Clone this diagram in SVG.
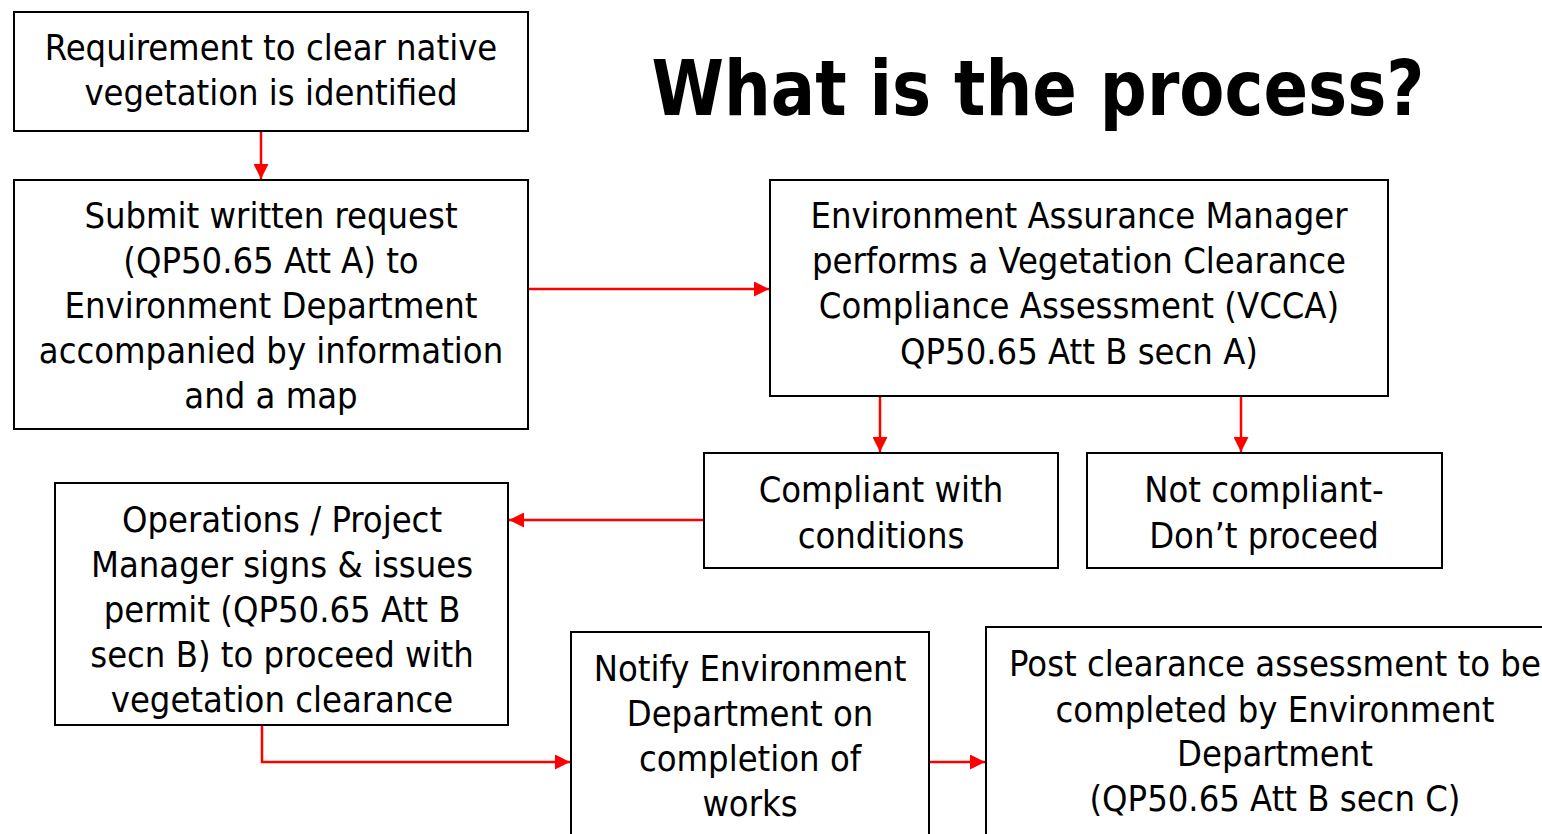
<svg xmlns="http://www.w3.org/2000/svg" width="1542" height="834" viewBox="0 0 1542 834">
<style>
.box{fill:#fff;stroke:#000;stroke-width:2}
.t{font-family:"DejaVu Sans Condensed","DejaVu Sans",sans-serif;font-size:36px;fill:#000;text-anchor:middle}
.title{font-family:"DejaVu Sans","Liberation Sans",sans-serif;font-weight:bold;font-size:76px;fill:#000;text-anchor:middle}
.c{fill:none;stroke:#ff0000;stroke-width:2.5;marker-end:url(#ah)}
</style>
<defs>
<marker id="ah" viewBox="0 0 10 10" refX="10" refY="5" markerWidth="6" markerHeight="6" orient="auto" markerUnits="strokeWidth">
<path d="M0,0 L10,5 L0,10 z" fill="#ff0000"/>
</marker>
</defs>
<rect width="1542" height="834" fill="#fff"/>
<text class="title" x="1038" y="115" textLength="773" lengthAdjust="spacingAndGlyphs">What is the process?</text>
<g id="connectors">
<path class="c" d="M261,131 V179"/>
<path class="c" d="M528,289 H769"/>
<path class="c" d="M880,397 V452"/>
<path class="c" d="M1241,397 V452"/>
<path class="c" d="M704,520 H509"/>
<path class="c" d="M262,725 V762 H570"/>
<path class="c" d="M929,762 H985"/>
</g>
<g id="n1"><rect class="box" x="14" y="12" width="514" height="119"/>
<text class="t" x="271" y="60">Requirement to clear native</text>
<text class="t" x="271" y="105">vegetation is identified</text></g>
<g id="n2"><rect class="box" x="14" y="180" width="514" height="249"/>
<text class="t" x="271" y="228">Submit written request</text>
<text class="t" x="271" y="273">(QP50.65 Att A) to</text>
<text class="t" x="271" y="318">Environment Department</text>
<text class="t" x="271" y="363">accompanied by information</text>
<text class="t" x="271" y="408">and a map</text></g>
<g id="n3"><rect class="box" x="770" y="180" width="618" height="216"/>
<text class="t" x="1079" y="228">Environment Assurance Manager</text>
<text class="t" x="1079" y="273">performs a Vegetation Clearance</text>
<text class="t" x="1079" y="318">Compliance Assessment (VCCA)</text>
<text class="t" x="1079" y="364">QP50.65 Att B secn A)</text></g>
<g id="n4"><rect class="box" x="704" y="453" width="354" height="115"/>
<text class="t" x="881" y="502">Compliant with</text>
<text class="t" x="881" y="548">conditions</text></g>
<g id="n5"><rect class="box" x="1087" y="453" width="355" height="115"/>
<text class="t" x="1264" y="502">Not compliant-</text>
<text class="t" x="1264" y="548">Don’t proceed</text></g>
<g id="n6"><rect class="box" x="55" y="483" width="453" height="242"/>
<text class="t" x="282" y="532">Operations / Project</text>
<text class="t" x="282" y="577">Manager signs &amp; issues</text>
<text class="t" x="282" y="622">permit (QP50.65 Att B</text>
<text class="t" x="282" y="667">secn B) to proceed with</text>
<text class="t" x="282" y="712">vegetation clearance</text></g>
<g id="n7"><rect class="box" x="571" y="632" width="358" height="220"/>
<text class="t" x="750" y="681">Notify Environment</text>
<text class="t" x="750" y="726">Department on</text>
<text class="t" x="750" y="771">completion of</text>
<text class="t" x="750" y="816">works</text></g>
<g id="n8"><rect class="box" x="986" y="627" width="580" height="230"/>
<text class="t" x="1275" y="676">Post clearance assessment to be</text>
<text class="t" x="1275" y="722">completed by Environment</text>
<text class="t" x="1275" y="766">Department</text>
<text class="t" x="1275" y="811">(QP50.65 Att B secn C)</text></g>
</svg>
